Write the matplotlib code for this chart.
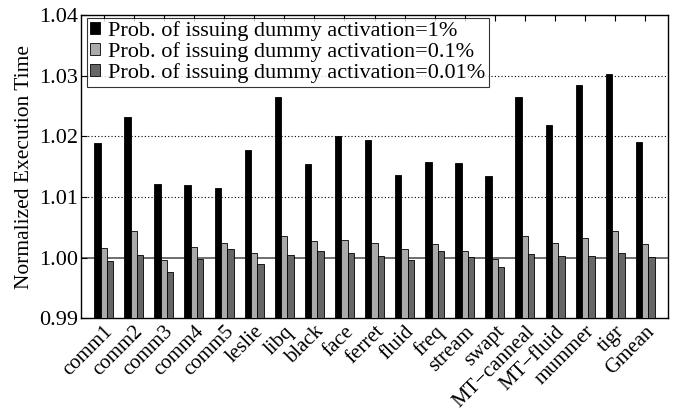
import matplotlib
matplotlib.use("Agg")
import matplotlib.pyplot as plt
import numpy as np

plt.rcParams['font.family'] = ['Liberation Serif', 'DejaVu Serif']

categories = ["comm1", "comm2", "comm3", "comm4", "comm5", "leslie", "libq", "black",
              "face", "ferret", "fluid", "freq", "stream", "swapt", "MT\u2212canneal",
              "MT\u2212fluid", "mummer", "tigr", "Gmean"]
p1 = [1.0189, 1.0232, 1.0121, 1.0119, 1.0114, 1.0177, 1.0265, 1.0155, 1.0201, 1.0194,
      1.0136, 1.0157, 1.0156, 1.0135, 1.0265, 1.0218, 1.0285, 1.0303, 1.0190]
p01 = [1.0016, 1.0043, 0.9996, 1.0017, 1.0024, 1.0007, 1.0035, 1.0027, 1.0029, 1.0024,
       1.0014, 1.0023, 1.0011, 0.9997, 1.0036, 1.0024, 1.0033, 1.0044, 1.0023]
p001 = [0.9995, 1.0004, 0.9976, 0.9998, 1.0014, 0.9989, 1.0005, 1.0011, 1.0007, 1.0003,
        0.9996, 1.0011, 1.0001, 0.9985, 1.0006, 1.0002, 1.0003, 1.0007, 1.0001]
series_labels = ["Prob. of issuing dummy activation=1%",
                 "Prob. of issuing dummy activation=0.1%",
                 "Prob. of issuing dummy activation=0.01%"]
colors = ["#000000", "#aaaaaa", "#666666"]

fig = plt.figure(figsize=(6.76, 4.17), dpi=100)
ax = fig.add_axes([0.12, 0.237, 0.868, 0.727])

x = np.arange(len(categories))
w = 0.21
base = 0.99
for i, (vals, lab, c) in enumerate(zip([p1, p01, p001], series_labels, colors)):
    heights = np.array(vals) - base
    ax.bar(x + (i - 1) * w, heights, w, bottom=base, color=c, edgecolor="black",
           linewidth=0.6, label=lab, zorder=3)

ax.set_ylim(0.99, 1.04)
ax.set_xlim(-0.75, len(categories) - 0.25)
ax.set_yticks([0.99, 1.00, 1.01, 1.02, 1.03, 1.04])
ax.set_yticklabels(["0.99", "1.00", "1.01", "1.02", "1.03", "1.04"], fontsize=16)
for yv in [1.01, 1.02, 1.03]:
    ax.axhline(yv, color="black", linestyle=(0, (1, 2)), linewidth=0.8, zorder=1)
ax.axhline(1.00, color="#555555", linewidth=1.2, zorder=1)

ax.set_xticks(x)
ax.set_xticklabels(categories, rotation=45, ha="right", rotation_mode="anchor", fontsize=15)
ax.tick_params(axis="x", direction="in", top=True, length=4, pad=3)
ax.tick_params(axis="y", direction="in", length=4, pad=2)
ax.set_ylabel("Normalized Execution Time", fontsize=15.5, labelpad=4)

for s in ax.spines.values():
    s.set_linewidth(1.0)

leg = ax.legend(loc="upper left", fontsize=16, frameon=True, fancybox=False,
                edgecolor="black", handlelength=0.45, handleheight=0.45,
                handletextpad=0.35, borderpad=0.15, labelspacing=0.05,
                borderaxespad=0, bbox_to_anchor=(0.01, 0.99))
leg.get_frame().set_linewidth(0.8)

fig.savefig("out.png", dpi=100)
